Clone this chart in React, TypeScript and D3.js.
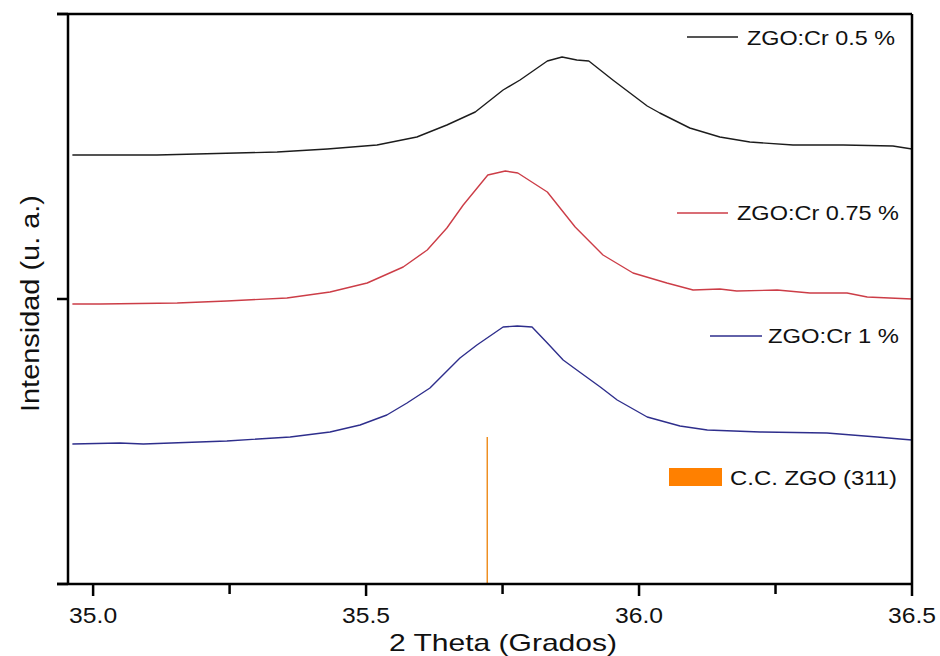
import React from "react";
import * as d3 from "d3";

// 2θ (degrees) positions and intensities (arbitrary units) for each sample
const theta05 = [34.962, 35.117, 35.337, 35.429, 35.52, 35.593, 35.648, 35.7, 35.751, 35.782, 35.832, 35.859, 35.886, 35.908, 35.952, 36.015, 36.038, 36.093, 36.148, 36.203, 36.282, 36.374, 36.465, 36.5];
const int05 = [429, 429, 432, 435, 439, 447, 459, 472, 494, 504, 523, 527, 524, 523, 504, 478, 471, 456, 447, 442, 439, 439, 438, 435];

const theta075 = [34.962, 35.013, 35.154, 35.245, 35.355, 35.434, 35.502, 35.568, 35.612, 35.648, 35.678, 35.723, 35.755, 35.778, 35.832, 35.883, 35.934, 35.989, 36.051, 36.099, 36.148, 36.179, 36.253, 36.313, 36.381, 36.418, 36.5];
const int075 = [280, 280, 281, 283, 286, 292, 301, 317, 334, 356, 379, 409, 413, 411, 392, 357, 329, 311, 301, 294, 295, 293, 294, 291, 291, 287, 285];

const theta1 = [34.962, 35.049, 35.092, 35.245, 35.361, 35.434, 35.489, 35.538, 35.575, 35.617, 35.672, 35.703, 35.751, 35.777, 35.804, 35.832, 35.861, 35.886, 35.929, 35.96, 36.015, 36.075, 36.125, 36.222, 36.344, 36.436, 36.478, 36.5];
const int1 = [140, 141, 140, 143, 147, 152, 159, 169, 181, 196, 226, 239, 257, 258, 257, 241, 224, 214, 197, 184, 167, 158, 154, 152, 151, 147, 145, 144];

const refTheta = [35.722];
const refInt = [147];

const seriesNames = ["ZGO:Cr 0.5 %", "ZGO:Cr 0.75 %", "ZGO:Cr 1 %"];
const refName = "C.C. ZGO (311)";

const xMajorTicks = [35.0, 35.5, 36.0, 36.5];
const xMinorTicks = [35.25, 35.75, 36.25];
const yTicks = [0, 285, 570];

const xDomain = [34.954, 36.5];
const yDomain = [0, 570];

const W = 940;
const H = 656;
const L = 68, R = 912, T = 14, B = 584;
const FONT = "'Liberation Sans', Arial, Helvetica, sans-serif";

export default function App() {
  const x = d3.scaleLinear().domain(xDomain).range([L, R]);
  const y = d3.scaleLinear().domain(yDomain).range([B, T]);
  const line = d3
    .line<[number, number]>()
    .x((d) => x(d[0]))
    .y((d) => y(d[1]));

  const zip = (a: number[], b: number[]) => a.map((v, i) => [v, b[i]] as [number, number]);

  const series = [
    { name: seriesNames[0], data: zip(theta05, int05), color: "#1c1c1c", lx1: 687, lx2: 738, ly: 37, tx: 747, tb: 45, tl: 148 },
    { name: seriesNames[1], data: zip(theta075, int075), color: "#cc3d47", lx1: 677, lx2: 728, ly: 213, tx: 737, tb: 220, tl: 162 },
    { name: seriesNames[2], data: zip(theta1, int1), color: "#2e2e8c", lx1: 710, lx2: 762, ly: 336, tx: 768, tb: 343, tl: 131 },
  ];

  return (
    <svg
      width={W}
      height={H}
      style={{ position: "absolute", left: 0, top: 0, background: "#fff" }}
      fontFamily={FONT}
    >
      <rect x={0} y={0} width={W} height={H} fill="#fff" />
      <defs>
        <clipPath id="plotclip">
          <rect x={L} y={T} width={R - L} height={B - T} />
        </clipPath>
      </defs>

      {/* curves */}
      <g clipPath="url(#plotclip)">
        {series.map((s) => (
          <path key={s.name} d={line(s.data) || ""} fill="none" stroke={s.color} strokeWidth={1.4} strokeLinejoin="round" />
        ))}
        {refTheta.map((t, i) => (
          <line key={i} x1={x(t)} x2={x(t)} y1={y(0)} y2={y(refInt[i])} stroke="#ee8f22" strokeWidth={1.5} />
        ))}
      </g>

      {/* frame */}
      <line x1={L - 11} x2={R} y1={T} y2={T} stroke="#000" strokeWidth={2.5} />
      <line x1={L - 11} x2={R + 1} y1={B} y2={B} stroke="#000" strokeWidth={2.5} />
      <line x1={L} x2={L} y1={T} y2={B} stroke="#000" strokeWidth={2.5} />
      <line x1={R} x2={R} y1={T} y2={B} stroke="#000" strokeWidth={2.5} />

      {/* y ticks */}
      {yTicks.map((v) => (
        <line key={v} x1={L - 11} x2={L} y1={y(v)} y2={y(v)} stroke="#000" strokeWidth={2.5} />
      ))}

      {/* x ticks */}
      {xMajorTicks.map((v) => (
        <g key={v}>
          <line x1={x(v)} x2={x(v)} y1={B} y2={B + 12} stroke="#000" strokeWidth={2.5} />
          <text x={x(v)} y={623} textAnchor="middle" fontSize={22} textLength={48} lengthAdjust="spacingAndGlyphs" fill="#111">
            {v.toFixed(1)}
          </text>
        </g>
      ))}
      {xMinorTicks.map((v) => (
        <line key={v} x1={x(v)} x2={x(v)} y1={B} y2={B + 10} stroke="#000" strokeWidth={2.5} />
      ))}

      {/* axis titles */}
      <text x={503} y={651} textAnchor="middle" fontSize={24} textLength={228} lengthAdjust="spacingAndGlyphs" fill="#111">
        2 Theta (Grados)
      </text>
      <text
        transform={`translate(39,303.5) rotate(-90)`}
        textAnchor="middle"
        fontSize={25}
        textLength={217}
        lengthAdjust="spacingAndGlyphs"
        fill="#111"
      >
        Intensidad (u. a.)
      </text>

      {/* legend entries */}
      {series.map((s) => (
        <g key={s.name}>
          <line x1={s.lx1} x2={s.lx2} y1={s.ly} y2={s.ly} stroke={s.color} strokeWidth={1.4} />
          <text x={s.tx} y={s.tb} fontSize={21} textLength={s.tl} lengthAdjust="spacingAndGlyphs" fill="#111">
            {s.name}
          </text>
        </g>
      ))}
      <rect x={669} y={468} width={53} height={18} fill="#ff8000" />
      <text x={730} y={485} fontSize={21} textLength={167} lengthAdjust="spacingAndGlyphs" fill="#111">
        {refName}
      </text>
    </svg>
  );
}
